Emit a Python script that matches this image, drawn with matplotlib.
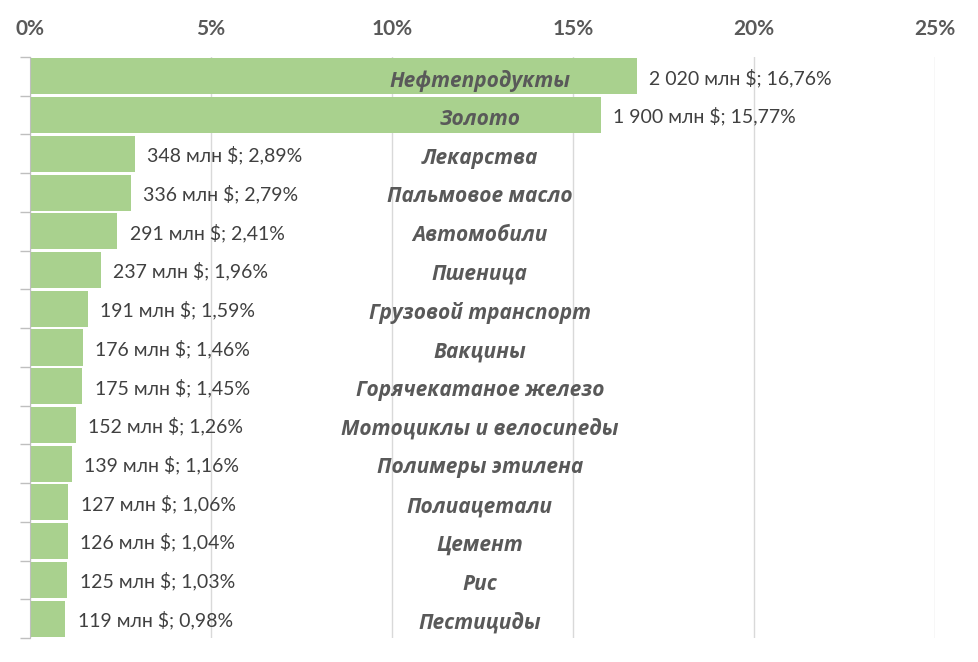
import numpy as np
import matplotlib
matplotlib.use('Agg')
import matplotlib.pyplot as plt

# данные
categories = ['Нефтепродукты', 'Золото', 'Лекарства', 'Пальмовое масло', 'Автомобили',
              'Пшеница', 'Грузовой транспорт', 'Вакцины', 'Горячекатаное железо',
              'Мотоциклы и велосипеды', 'Полимеры этилена', 'Полиацетали', 'Цемент',
              'Рис', 'Пестициды']
values_mln = ['2 020', '1 900', '348', '336', '291', '237', '191', '176', '175',
              '152', '139', '127', '126', '125', '119']
shares = [16.76, 15.77, 2.89, 2.79, 2.41, 1.96, 1.59, 1.46, 1.45, 1.26, 1.16, 1.06,
          1.04, 1.03, 0.98]
xticks = [0, 5, 10, 15, 20, 25]

plt.rcParams['font.family'] = ['Lato', 'DejaVu Sans']

fig = plt.figure(figsize=(9.79, 6.62), dpi=100)
ax = fig.add_axes([30 / 979, 1 - 638 / 662, 905 / 979, (638 - 57) / 662])

y = np.arange(len(categories))
ax.barh(y, shares, height=0.93, color='#a9d18e', zorder=2)
ax.set_ylim(len(categories) - 0.5, -0.5)
ax.set_xlim(0, 25)

for i, (v, s) in enumerate(zip(values_mln, shares)):
    ax.annotate(f'{v} млн $; {s:.2f}%'.replace('.', ','), xy=(s, i),
                xytext=(9, -1), textcoords='offset points', va='center', ha='left',
                fontsize=14, color='#404040', zorder=3)
    ax.annotate(categories[i], xy=(0.497, i), xycoords=ax.get_yaxis_transform(),
                xytext=(0, -3), textcoords='offset points',
                ha='center', va='center', fontsize=15, fontweight='bold',
                fontstyle='italic', color='#595959', zorder=3,
                family=['Open Sans', 'DejaVu Sans'])

ax.xaxis.tick_top()
ax.set_xticks(xticks)
ax.set_xticklabels([f'{t}%' for t in xticks], fontsize=15, fontweight='bold',
                   color='#595959')
ax.tick_params(axis='x', length=0, pad=13)
ax.grid(axis='x', color='#d9d9d9', linewidth=1, zorder=0)

ax.set_yticks([])
ax.set_yticks(np.arange(len(categories) + 1) - 0.5, minor=True)
ax.tick_params(axis='y', which='minor', length=7, color='#bfbfbf', width=1)

for side in ['top', 'right', 'bottom']:
    ax.spines[side].set_visible(False)
ax.spines['left'].set_color('#bfbfbf')

fig.savefig('out.png', dpi=100)
